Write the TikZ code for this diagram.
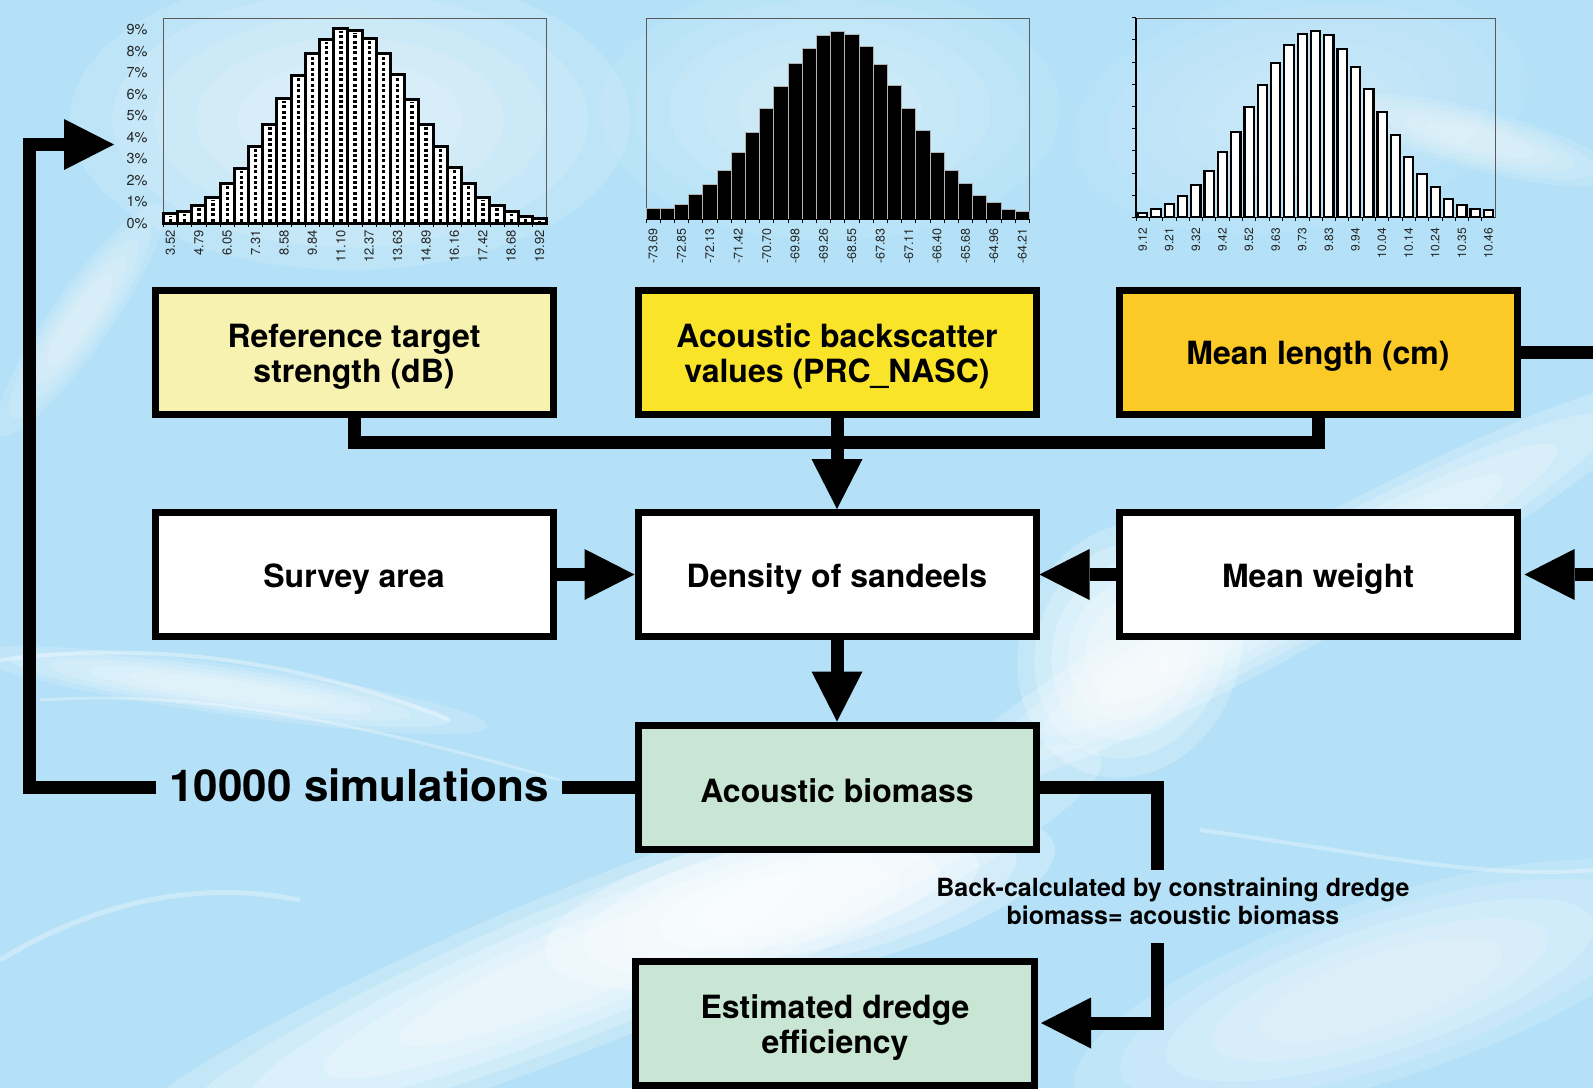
\documentclass[tikz,border=0pt]{standalone}
\usepackage{fontspec}
\setmainfont{TeX Gyre Heros}
\usetikzlibrary{arrows.meta}
\definecolor{bgblue}{RGB}{180,225,247}
\definecolor{boxA}{RGB}{247,242,176}
\definecolor{boxB}{RGB}{249,228,42}
\definecolor{boxC}{RGB}{252,202,38}
\definecolor{boxG}{RGB}{201,229,211}
\definecolor{framegray}{RGB}{90,90,90}
\newcommand\tstrut{\rule{0pt}{32pt}}
\newcommand\softblob[6]{%
  \foreach \sc in {1,0.85,0.7,0.55,0.4} {%
    \pgfmathsetmacro\rxx{#3*\sc}\pgfmathsetmacro\ryy{#4*\sc}%
    \fill[white, opacity=#6, rotate around={#5:(#1,#2)}] (#1,#2) ellipse [x radius=\rxx, y radius=\ryy];
  }}
\tikzset{
  fbox/.style={draw=black, line width=7pt, minimum width=398pt, minimum height=124pt,
    inner sep=0pt, outer sep=3.5pt, align=center, font=\fontsize{32}{35}\selectfont\bfseries},
  conn/.style={draw=black, line width=13pt, line join=miter},
  arr/.style={-{Triangle[width=51pt,length=50pt,line width=0pt]}},
  pct/.style={font=\fontsize{14.5}{14.5}\selectfont, text=black!85, anchor=east, inner sep=0pt},
  xlab/.style={font=\fontsize{12.5}{12.5}\selectfont, text=black!85, rotate=90, anchor=east, inner sep=0pt},
}
\begin{document}
\begin{tikzpicture}[x=1pt,y=-1pt]
\useasboundingbox (0,0) rectangle (1593,1088);
% ---------- background ----------
\fill[bgblue] (0,0) rectangle (1593,1088);
\softblob{350}{120}{280}{150}{0}{0.12}
\softblob{830}{110}{230}{130}{0}{0.08}
\softblob{1300}{110}{230}{120}{10}{0.06}
\softblob{600}{960}{540}{80}{22}{0.22}
\softblob{800}{900}{260}{75}{12}{0.26}
\softblob{1300}{590}{420}{55}{29}{0.2}
\softblob{1130}{650}{110}{130}{-20}{0.22}
\softblob{1380}{990}{320}{90}{18}{0.15}
\softblob{230}{690}{260}{25}{-8}{0.16}
\softblob{80}{320}{30}{140}{-35}{0.12}
\softblob{1480}{140}{140}{30}{-15}{0.12}
\draw[white, opacity=0.35, line width=4pt] (0,660) .. controls (150,640) and (300,660) .. (450,720);
\draw[white, opacity=0.3, line width=3pt] (40,700) .. controls (200,690) and (350,720) .. (560,780);
\draw[white, opacity=0.3, line width=5pt] (0,960) .. controls (100,900) and (200,880) .. (300,900);
\draw[white, opacity=0.3, line width=4pt] (1200,830) .. controls (1350,850) and (1480,880) .. (1593,870);
% ---------- histogram 1 ----------
\draw[framegray, line width=1pt] (163.3,18.3) rectangle (546.7,223.3);
\def\hA{0.47,0.57,0.82,1.21,1.86,2.55,3.56,4.6,5.79,6.86,7.92,8.54,9.05,8.98,8.59,7.92,6.9,5.75,4.61,3.56,2.59,1.86,1.21,0.81,0.54,0.31,0.23}
\foreach \h [count=\i] in \hA {
  \pgfmathsetmacro\xa{163.3+(\i-1)*14.2}
  \pgfmathsetmacro\yt{223.3-\h*21.5}
  \fill[white] (\xa,223.3) rectangle (\xa+14.2,\yt);
  \draw[black, line width=3.4pt, dash pattern=on 3pt off 2.4pt] (\xa+7.1,221.8) -- (\xa+7.1,\yt+2.5);
  \draw[black, line width=3pt] (\xa,223.3) rectangle (\xa+14.2,\yt);
  \draw[black, line width=0.8pt] (\xa,223.3) -- (\xa,226.5);
}
\draw[black, line width=1.2pt] (163.3,223.3) -- (546.7,223.3);
\foreach \k in {0,...,9} { \node[pct] (pA\k) at (147.7,223.3-\k*21.5) {\k\%}; }
\foreach \l [count=\j] in {3.52,4.79,6.05,7.31,8.58,9.84,11.10,12.37,13.63,14.89,16.16,17.42,18.68,19.92} {
  \pgfmathsetmacro\xc{163.3+(2*\j-2)*14.2+7.1}
  \node[xlab, font=\fontsize{13}{13}\selectfont] (lA\j) at (\xc,230) {\l};
}
% ---------- histogram 2 ----------
\draw[framegray, line width=1pt] (646,18.3) rectangle (1029.3,219.3);
\def\hB{33,33,45,76,104,147,201,261,333,400,468,512,551,563,555,519,465,402,333,266,201,147,108,73,51,31,24}
\foreach \h [count=\i] in \hB {
  \pgfmathsetmacro\xa{646+(\i-1)*14.2}
  \pgfmathsetmacro\yt{219.3-\h/3}
  \fill[black] (\xa,219.3) rectangle (\xa+14.2,\yt);
  \draw[gray!60, line width=0.8pt] (\xa,219.3) rectangle (\xa+14.2,\yt);
  \draw[black, line width=0.8pt] (\xa,219.3) -- (\xa,223);
}
\draw[black, line width=0.8pt] (1029.3,219.3) -- (1029.3,223);
\draw[black, line width=1.2pt] (646,219.3) -- (1029.3,219.3);
\foreach \l [count=\j] in {-73.69,-72.85,-72.13,-71.42,-70.70,-69.98,-69.26,-68.55,-67.83,-67.11,-66.40,-65.68,-64.96,-64.21} {
  \pgfmathsetmacro\xc{646+(2*\j-2)*14.2+7.1}
  \node[xlab] (lB\j) at (\xc,228) {\l};
}
% ---------- histogram 3 ----------
\draw[framegray, line width=1pt] (1136,18.3) rectangle (1495.3,217.3);
\def\hC{12,26,39,65,98,138,197,256,332,398,464,517,550,559,546,506,452,384,315,247,181,131,91,56,37,24,22}
\foreach \h [count=\i] in \hC {
  \pgfmathsetmacro\xa{1136+(\i-1)*13.3}
  \pgfmathsetmacro\yt{217.3-\h/3}
  \draw[black, fill=white, line width=2.2pt] (\xa+2,217.3) rectangle (\xa+11.3,\yt);
  \draw[black, line width=0.8pt] (\xa,217.3) -- (\xa,221);
}
\draw[black, line width=1.2pt] (1136,217.3) -- (1495.3,217.3);
\draw[black, line width=1.2pt] (1136,18.3) -- (1136,217.3);
\foreach \k in {0,...,9} { \draw[black, line width=0.8pt] (1132,217.3-\k*22.2) -- (1136,217.3-\k*22.2); }
\foreach \l [count=\j] in {9.12,9.21,9.32,9.42,9.52,9.63,9.73,9.83,9.94,10.04,10.14,10.24,10.35,10.46} {
  \pgfmathsetmacro\xc{1136+(2*\j-2)*13.3+6.65}
  \node[xlab, font=\fontsize{12}{12}\selectfont] (lC\j) at (\xc,228) {\l};
}
% ---------- boxes ----------
\node[fbox, fill=boxA] (ref) at (354,352) {\tstrut Reference target\\strength (dB)};
\node[fbox, fill=boxB] (nasc) at (837,352) {\tstrut Acoustic backscatter\\values (PRC\_NASC)};
\node[fbox, fill=boxC] (len) at (1318,352) {\tstrut Mean length (cm)};
\node[fbox, fill=white] (area) at (354,574.5) {\tstrut Survey area};
\node[fbox, fill=white] (dens) at (837,574.5) {\tstrut Density of sandeels};
\node[fbox, fill=white] (wt) at (1318,574.5) {\tstrut Mean weight};
\node[fbox, fill=boxG] (bio) at (837,787) {\tstrut Acoustic biomass};
\node[fbox, fill=boxG, minimum width=399pt] (eff) at (835,1023) {\tstrut Estimated dredge\\efficiency};
% ---------- texts on connectors ----------
\node[font=\fontsize{44}{44}\selectfont\bfseries, inner xsep=13pt, inner ysep=0pt, anchor=base] (sim) at (359,801) {10000 simulations};
\node[font=\fontsize{25}{28}\selectfont\bfseries, align=center, inner sep=0pt] (back) at (1173,901) {Back-calculated by constraining dredge\\biomass= acoustic biomass};
% ---------- connectors ----------
\coordinate (busL) at (354,442);
\coordinate (busR) at (1318,442);
\draw[conn] (ref.south) -- (busL) -- (busR) -- (len.south);
\draw[conn, arr] (nasc.south) -- (dens.north);
\draw[conn, arr] (area.east) -- (dens.west);
\draw[conn, arr] (wt.west) -- (dens.east);
\draw[conn, arr] (dens.south) -- (bio.north);
\coordinate (offR1) at (1600,352);
\coordinate (offR2) at (1600,574.5);
\draw[conn] (len.east) -- (offR1);
\draw[conn, arr, shorten >=4pt] (offR2) -- (wt.east);
\coordinate (loopB) at (29.4,787);
\coordinate (loopT) at (29.4,144.5);
\coordinate (fb) at (114,144.5);
\draw[conn] (bio.west) -- (bio.west -| sim.east);
\draw[conn, arr] (sim.west |- bio.west) -- (loopB) -- (loopT) -- (fb);
\coordinate (bkC) at (1157,787);
\coordinate (bkT) at (1157,870);
\coordinate (bkB) at (1157,943);
\draw[conn] (bio.east) -- (bkC) -- (bkT);
\draw[conn, arr, shorten >=3pt] (bkB) |- (eff.east);
\end{tikzpicture}
\end{document}
